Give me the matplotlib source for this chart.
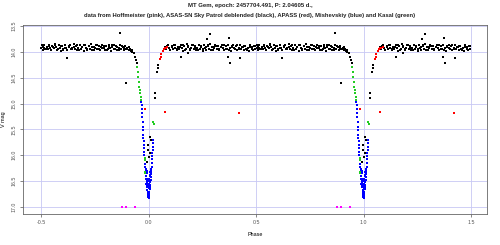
import numpy as np
import matplotlib
matplotlib.use("Agg")
import matplotlib.pyplot as plt

plt.rcParams['font.family'] = ['Liberation Sans', 'DejaVu Sans']

# ASAS-SN (black), phase in [-0.5, 0.5)
asas_ph = [-0.498, -0.495, -0.492, -0.488, -0.485, -0.478, -0.472, -0.468, -0.462, -0.458,
           -0.452, -0.447, -0.441, -0.436, -0.430, -0.425, -0.418, -0.412, -0.407, -0.401,
           -0.396, -0.390, -0.384, -0.378, -0.372, -0.366, -0.361, -0.355, -0.349, -0.343,
           -0.337, -0.331, -0.326, -0.320, -0.314, -0.308, -0.302, -0.297, -0.291, -0.285,
           -0.279, -0.273, -0.268, -0.262, -0.256, -0.250, -0.244, -0.238, -0.232, -0.226,
           -0.221, -0.215, -0.209, -0.203, -0.197, -0.191, -0.186, -0.180, -0.174, -0.168,
           -0.162, -0.157, -0.151, -0.145, -0.139, -0.133, -0.127, -0.121, -0.115, -0.110,
           -0.104, -0.098, -0.092, -0.086, -0.080, -0.075, -0.070, -0.064, -0.059, -0.056,
           0.068, 0.072, 0.078, 0.083, 0.089, 0.095, 0.101, 0.107, 0.113, 0.119,
           0.125, 0.131, 0.137, 0.143, 0.149, 0.155, 0.161, 0.167, 0.173, 0.179,
           0.185, 0.191, 0.197, 0.203, 0.209, 0.215, 0.221, 0.227, 0.233, 0.239,
           0.245, 0.251, 0.257, 0.263, 0.269, 0.275, 0.281, 0.287, 0.293, 0.299,
           0.305, 0.311, 0.317, 0.323, 0.329, 0.335, 0.341, 0.347, 0.353, 0.359,
           0.365, 0.371, 0.377, 0.383, 0.389, 0.395, 0.401, 0.407, 0.413, 0.419,
           0.425, 0.431, 0.437, 0.443, 0.449, 0.455, 0.461, 0.467, 0.473, 0.479,
           0.485, 0.491, 0.497,
           # second pass through the maximum, clumped
           -0.490, -0.481, -0.464, -0.455, -0.444, -0.433, -0.421, -0.409, -0.399, -0.387,
           -0.369, -0.358, -0.346, -0.334, -0.323, -0.311, -0.299, -0.288, -0.276, -0.265,
           -0.253, -0.241, -0.229, -0.218, -0.206, -0.194, -0.183, -0.171, -0.159, -0.148,
           -0.136, -0.124, -0.112, -0.101, -0.089, -0.078,
           0.075, 0.086, 0.098, 0.110, 0.122, 0.134, 0.146, 0.158, 0.170, 0.182,
           0.194, 0.206, 0.218, 0.230, 0.242, 0.254, 0.266, 0.278, 0.290, 0.302,
           0.314, 0.326, 0.338, 0.350, 0.362, 0.374, 0.386, 0.398, 0.410, 0.422,
           0.434, 0.446, 0.458, 0.470, 0.482, 0.494,
           # outliers and eclipse points
           -0.380, -0.133, -0.104, 0.285, 0.274, 0.375, 0.378, 0.425, 0.153, 0.184, 0.370,
           0.029, 0.031, 0.040, 0.042, 0.045, 0.006, 0.012, -0.002, 0.006, -0.008, 0.004, -0.004]
asas_mag = [13.93, 13.87, 13.97, 13.92, 13.86, 13.95, 13.90, 13.94, 13.86, 13.92,
            13.97, 13.88, 13.93, 13.85, 13.91, 13.96, 13.87, 13.92, 13.98, 13.89,
            13.94, 13.86, 13.92, 13.97, 13.90, 13.87, 13.95, 13.92, 13.85, 13.94,
            13.89, 13.97, 13.92, 13.86, 13.94, 13.90, 13.98, 13.87, 13.92, 13.96,
            13.89, 13.94, 13.85, 13.91, 13.97, 13.92, 13.87, 13.94, 13.89, 13.96,
            13.91, 13.86, 13.92, 13.97, 13.89, 13.94, 13.87, 13.92, 13.98, 13.90,
            13.86, 13.94, 13.89, 13.96, 13.92, 13.87, 13.94, 13.90, 13.97, 13.89,
            13.94, 13.92, 13.97, 13.95, 13.98, 14.00, 14.03, 14.10, 14.16, 14.22,
            13.98, 13.94, 13.90, 13.94, 13.87, 13.92, 13.97, 13.89, 13.94, 13.86,
            13.92, 13.97, 13.90, 13.94, 13.87, 13.92, 13.98, 13.89, 13.94, 13.85,
            13.90, 13.96, 13.92, 13.87, 13.94, 13.89, 13.97, 13.92, 13.86, 13.94,
            13.90, 13.98, 13.87, 13.92, 13.96, 13.89, 13.94, 13.85, 13.90, 13.97,
            13.92, 13.87, 13.94, 13.89, 13.96, 13.90, 13.86, 13.92, 13.97, 13.89,
            13.94, 13.87, 13.92, 13.98, 13.90, 13.86, 13.94, 13.89, 13.96, 13.92,
            13.87, 13.94, 13.90, 13.97, 13.89, 13.94, 13.92, 13.98, 13.86, 13.90,
            13.96, 13.89, 13.94,
            13.90, 13.95, 13.88, 13.96, 13.91, 13.86, 13.94, 13.89, 13.97, 13.92,
            13.88, 13.95, 13.90, 13.86, 13.96, 13.91, 13.87, 13.94, 13.89, 13.97,
            13.90, 13.86, 13.95, 13.92, 13.88, 13.96, 13.90, 13.87, 13.94, 13.91,
            13.97, 13.88, 13.93, 13.95, 13.90, 13.96,
            13.93, 13.88, 13.96, 13.90, 13.86, 13.95, 13.91, 13.87, 13.97, 13.89,
            13.94, 13.86, 13.92, 13.96, 13.88, 13.95, 13.90, 13.86, 13.97, 13.91,
            13.88, 13.95, 13.90, 13.86, 13.94, 13.96, 13.89, 13.93, 13.87, 13.95,
            13.91, 13.88, 13.96, 13.90, 13.94, 13.89,
            14.12, 13.63, 14.61, 13.65, 13.76, 13.74, 14.22, 14.12, 14.09, 14.03, 14.09,
            14.80, 14.90, 14.38, 14.32, 14.25, 15.64, 15.70, 15.90, 15.96, 16.13, 16.03, 15.80]

# APASS (red)
apass_ph = [0.052, 0.056, 0.060, 0.065, 0.070, 0.076, 0.082, 0.088, -0.015, 0.076, 0.420]
apass_mag = [14.14, 14.10, 14.04, 13.99, 13.95, 13.93, 13.92, 13.91, 15.10, 15.17, 15.19]

# Mishevskiy (blue)
mish_ph = [-0.033, -0.032, -0.031, -0.030, -0.029, -0.028, -0.027, -0.026, -0.025, -0.024,
           -0.023, -0.022, -0.021, -0.020, -0.019, -0.018, -0.017, -0.016, -0.015, -0.014,
           -0.013, -0.012, -0.011, -0.010, -0.009, -0.008, -0.007, -0.006, -0.005, -0.004,
           -0.003, -0.002, -0.001, 0.000, 0.001, 0.002, 0.003, 0.004, 0.005, 0.006,
           0.007, 0.008, 0.009, 0.010, 0.011, 0.012, 0.013, 0.014, 0.015, 0.016,
           0.017, 0.018, 0.019, 0.020, 0.021, 0.022,
           -0.010, -0.008, -0.006, -0.004, -0.002, 0.000, 0.002, 0.004, 0.006, 0.008,
           -0.005, -0.003, -0.001, 0.001, 0.003, 0.005, -0.007, -0.009, 0.007, 0.009]
mish_mag = [14.96, 15.02, 15.10, 15.19, 15.26, 15.36, 15.45, 15.52, 15.60, 15.66,
            15.72, 15.80, 15.86, 15.93, 16.00, 16.06, 16.10, 16.16, 16.22, 16.27,
            16.31, 16.35, 16.40, 16.45, 16.50, 16.54, 16.58, 16.62, 16.67, 16.70,
            16.74, 16.80, 16.77, 16.82, 16.78, 16.80, 16.74, 16.70, 16.66, 16.62,
            16.58, 16.52, 16.47, 16.42, 16.36, 16.32, 16.28, 16.22, 16.15, 16.08,
            16.02, 15.96, 15.90, 15.84, 15.77, 15.70,
            16.55, 16.60, 16.52, 16.62, 16.58, 16.70, 16.64, 16.56, 16.48, 16.40,
            16.45, 16.50, 16.60, 16.55, 16.46, 16.38, 16.35, 16.30, 16.32, 16.26]

# Kasal (green)
kasal_ph = [-0.053, -0.051, -0.048, -0.046, -0.044, -0.041, -0.039, -0.036, -0.034,
            -0.017, -0.016, -0.017, -0.015, 0.022, 0.025]
kasal_mag = [14.29, 14.38, 14.48, 14.58, 14.67, 14.74, 14.80, 14.87, 14.93,
             16.06, 16.10, 16.32, 16.35, 15.35, 15.40]

# Hoffmeister (pink)
hoff_ph = [-0.122, -0.107, -0.062]
hoff_mag = [17.0, 17.0, 17.0]

xticks = [-0.5, 0.0, 0.5, 1.0, 1.5]
yticks = [13.5, 14.0, 14.5, 15.0, 15.5, 16.0, 16.5, 17.0]

fig = plt.figure(figsize=(5, 2.45), dpi=100)
ax = fig.add_axes([0.046, 0.1265, 0.928, 0.7715])

for yv in yticks:
    ax.axhline(yv, color='#c8c8f4', lw=0.6, zorder=0)
for xv in xticks:
    ax.axvline(xv, color='#c8c8f4', lw=0.6, zorder=0)

sets = [(asas_ph, asas_mag, 'black'), (apass_ph, apass_mag, 'red'),
        (mish_ph, mish_mag, 'blue'), (kasal_ph, kasal_mag, '#22cc22'),
        (hoff_ph, hoff_mag, 'magenta')]
for ph, mag, c in sets:
    ph = np.array(ph)
    for shift in (0.0, 1.0):
        ax.scatter(ph + shift, mag, s=2.2, marker='s', color=c, lw=0, zorder=3)

ax.set_xlim(-0.584, 1.574)
ax.set_ylim(17.135, 13.48)
ax.set_xticks(xticks)
ax.set_xticklabels(['-0.5', '0.0', '0.5', '1.0', '1.5'])
ax.set_yticks(yticks)
ax.set_yticklabels([f'{v:.1f}' for v in yticks], rotation=90, va='center')
ax.tick_params(labelsize=3.8, length=2.5, width=0.5, colors='#555555', pad=2)
for sp in ax.spines.values():
    sp.set_color('#666666')
    sp.set_linewidth(0.6)

ax.set_xlabel('Phase', fontsize=3.9, labelpad=5)
ax.set_ylabel('V mag', fontsize=3.9, labelpad=4)

fig.text(0.5, 1 - 5.3 / 245, 'MT Gem, epoch: 2457704.491, P: 2.04605 d.,',
         ha='center', va='center', fontsize=4.3, fontweight='bold', color='#222222')
fig.text(0.5, 1 - 15.3 / 245,
         'data from Hoffmeister (pink), ASAS-SN Sky Patrol deblended (black), APASS (red), '
         'Mishevskiy (blue) and Kasal (green)',
         ha='center', va='center', fontsize=4.2, fontweight='bold', color='#222222')

fig.savefig('out.png', dpi=100)
